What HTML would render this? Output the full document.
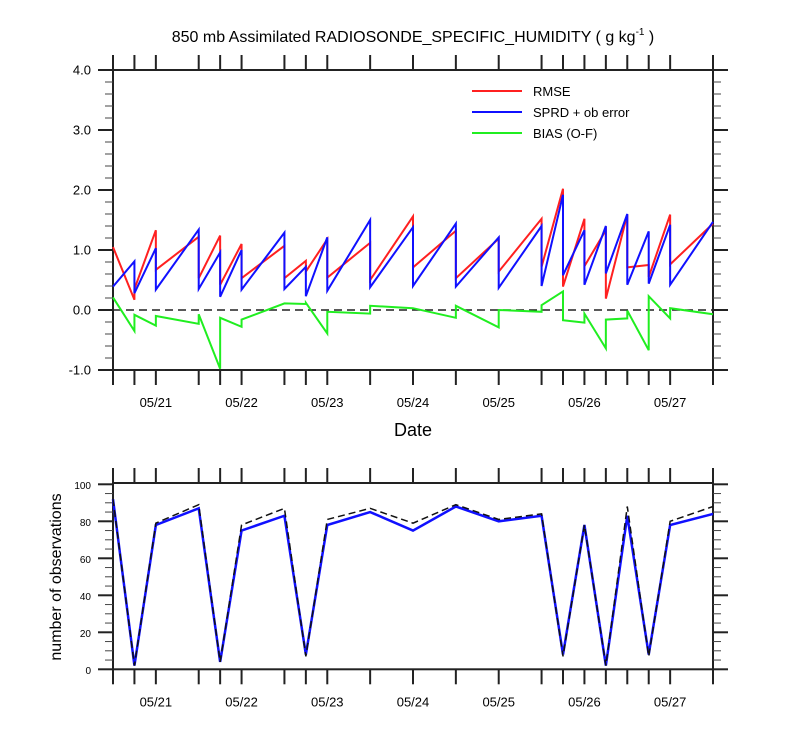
<!DOCTYPE html>
<html><head><meta charset="utf-8"><style>
html,body{margin:0;padding:0;background:#fff;}
svg{display:block;font-family:"Liberation Sans",Arial,sans-serif;}
</style></head><body>
<svg id="chart" width="800" height="750" viewBox="0 0 800 750" xmlns="http://www.w3.org/2000/svg">
<text x="413" y="42" text-anchor="middle" font-size="16">850 mb Assimilated RADIOSONDE_SPECIFIC_HUMIDITY ( g kg<tspan font-size="10" dy="-7">-1</tspan><tspan dy="7"> )</tspan></text>
<text x="413" y="436" text-anchor="middle" font-size="18">Date</text>
<text transform="translate(61,577) rotate(-90)" text-anchor="middle" font-size="16">number of observations</text>
<g>
<line x1="472" y1="91" x2="522" y2="91" stroke="#ff2020" stroke-width="2"/>
<text x="533" y="96" font-size="13">RMSE</text>
<line x1="472" y1="112" x2="522" y2="112" stroke="#1010ff" stroke-width="2"/>
<text x="533" y="117" font-size="13">SPRD + ob error</text>
<line x1="472" y1="133" x2="522" y2="133" stroke="#20ee20" stroke-width="2"/>
<text x="533" y="138" font-size="13">BIAS (O-F)</text>
</g>
</svg>
<script>
const times = [0,6,12,24,30,36,48,54,60,72,84,96,108,120,126,132,138,144,150,156,168];
const dateLabels = ["05/21","05/22","05/23","05/24","05/25","05/26","05/27"];
const dateHours = [12,36,60,84,108,132,156];
const rmseStart = [1.05,0.35,0.67,0.53,0.42,0.53,0.53,0.64,0.54,0.5,0.71,0.53,0.64,0.72,0.39,0.73,0.19,0.71,0.55,0.76];
const rmseEnd = [0.17,1.33,1.22,1.24,1.10,1.07,0.82,1.18,1.12,1.56,1.32,1.19,1.52,2.02,1.52,1.33,1.59,0.75,1.59,1.44];
const sprdStart = [0.39,0.28,0.34,0.35,0.22,0.34,0.35,0.23,0.32,0.38,0.40,0.39,0.37,0.40,0.58,0.42,0.61,0.42,0.44,0.42];
const sprdEnd = [0.81,1.03,1.34,0.96,1.0,1.29,0.72,1.21,1.5,1.38,1.44,1.21,1.4,1.92,1.33,1.4,1.6,1.31,1.42,1.47];
const biasStart = [0.21,-0.08,-0.1,-0.07,-0.13,-0.16,0.11,0.12,-0.03,0.07,0.03,0.07,0.0,0.08,-0.17,-0.06,-0.16,-0.01,0.23,0.03];
const biasEnd = [-0.35,-0.26,-0.23,-0.98,-0.28,0.11,0.10,-0.39,-0.06,0.03,-0.13,-0.29,-0.03,0.31,-0.21,-0.64,-0.14,-0.67,-0.14,-0.07];
const obsUsed = [92,2,78,87,4,75,83,8,78,85,75,88,80,83,8,78,2,83,8,78,84];
const obsTotal = [92,2,79,89,4,78,87,7,81,87,79,89,81,84,7,78,2,88,7,80,88];
const topTicks = [-1,0,1,2,3,4];
const botTicks = [0,20,40,60,80,100];

const NS = "http://www.w3.org/2000/svg";
const svg = document.getElementById("chart");
const X0 = 113, X1 = 713, T0 = 0, T1 = 168;
function xs(h){ return X0 + (h - T0) / (T1 - T0) * (X1 - X0); }
function yTop(v){ return 310 - v * 60; }
function yBot(v){ return 669.3 - v * 1.85; }
function mk(tag, attrs, parent){
  const e = document.createElementNS(NS, tag);
  for (const k in attrs) e.setAttribute(k, attrs[k]);
  (parent || svg).appendChild(e);
  return e;
}

function axes(top, bottom, yfun, ticks, minorStep, fmt, lblSize, name){
  const g = mk("g", {});
  
  
  mk("rect", {x:X0, y:top, width:X1-X0, height:bottom-top, fill:"none", stroke:"#222", "stroke-width":2}, g);
  times.forEach(h => {
    const x = xs(h);
    mk("line", {x1:x, y1:top, x2:x, y2:top-15, stroke:"#222", "stroke-width":2}, g);
    mk("line", {x1:x, y1:bottom, x2:x, y2:bottom+15, stroke:"#222", "stroke-width":2}, g);
  });
  dateHours.forEach((h, i) => {
    const t = mk("text", {x:xs(h), y:bottom+37, "text-anchor":"middle", "font-size":13}, g);
    t.textContent = dateLabels[i];
    
    
  });
  const lo = ticks[0], hi = ticks[ticks.length-1];
  for (let v = lo; v <= hi + 1e-9; v += minorStep){
    const y = yfun(v);
    mk("line", {x1:X0, y1:y, x2:X0-8, y2:y, stroke:"#444", "stroke-width":1}, g);
    mk("line", {x1:X1, y1:y, x2:X1+8, y2:y, stroke:"#444", "stroke-width":1}, g);
  }
  ticks.forEach(v => {
    const y = yfun(v);
    mk("line", {x1:X0, y1:y, x2:X0-15, y2:y, stroke:"#222", "stroke-width":2}, g);
    mk("line", {x1:X1, y1:y, x2:X1+15, y2:y, stroke:"#222", "stroke-width":2}, g);
    const t = mk("text", {x:X0-22, y:y+4.5, "text-anchor":"end", "font-size":lblSize}, g);
    t.textContent = fmt(v);
    
    
  });
}
axes(70, 370, yTop, topTicks, 0.2, v => v.toFixed(1), 13, "top");
axes(483, 669.3, yBot, botTicks, 5, v => String(v), 10, "bottom");

const zero = mk("line", {x1:X0, y1:yTop(0), x2:X1, y2:yTop(0), stroke:"#222", "stroke-width":1.5, "stroke-dasharray":"8,5"});



function saw(starts, ends){
  const pts = [];
  for (let i = 0; i < starts.length; i++){
    pts.push(xs(times[i]) + "," + yTop(starts[i]));
    pts.push(xs(times[i+1]) + "," + yTop(ends[i]));
  }
  return pts.join(" ");
}
const sb = mk("polyline", {points:saw(biasStart, biasEnd), fill:"none", stroke:"#20ee20", "stroke-width":2});


const sr = mk("polyline", {points:saw(rmseStart, rmseEnd), fill:"none", stroke:"#ff2020", "stroke-width":2});


const ss = mk("polyline", {points:saw(sprdStart, sprdEnd), fill:"none", stroke:"#1010ff", "stroke-width":2});



function obsPts(arr){ return arr.map((v, i) => xs(times[i]) + "," + yBot(v)).join(" "); }
const ou = mk("polyline", {points:obsPts(obsUsed), fill:"none", stroke:"#1010ff", "stroke-width":2.5});


const ot = mk("polyline", {points:obsPts(obsTotal), fill:"none", stroke:"#111", "stroke-width":1.5, "stroke-dasharray":"7,4"});


</script>
</body></html>
